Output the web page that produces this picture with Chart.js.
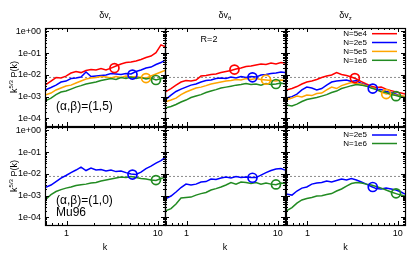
<!DOCTYPE html>
<html>
<head>
<meta charset="utf-8">
<title>k^5/3 P(k)</title>
<script src="https://cdn.jsdelivr.net/npm/chart.js@4.4.1/dist/chart.umd.min.js"></script>
<style>
  html, body { margin: 0; padding: 0; background: #fff; }
  #wrap { position: relative; width: 415px; height: 265px; overflow: hidden; }
  #wrap canvas { position: absolute; left: 0; top: 0; }
</style>
</head>
<body>
<div id="wrap"></div>
<script>
// wavenumbers, shared by every spectrum
var k = [0.58, 0.675, 0.766, 0.869, 0.985, 1.118, 1.269, 1.439, 1.633, 1.853, 2.102, 2.385, 2.706,
         3.069, 3.483, 3.952, 4.483, 5.086, 5.77, 6.546, 7.427, 8.426, 9.559, 10.84, 12.0];

var nLabels = ["N=5e4", "N=2e5", "N=5e5", "N=1e6"];
var nColors = ["#ff0000", "#0000ff", "#ffa500", "#228b22"];
var circleK = [3.35, 5.28, 7.43, 9.55];   // circle position for each N
var kolmo = 0.0076;                       // dashed reference level

// top row, (alpha,beta)=(1,5)
var vrTop5e4 = [0.00336, 0.00517, 0.00751, 0.00711, 0.00878, 0.0121, 0.0142, 0.0127, 0.0158, 0.0175, 0.0166, 0.0195, 0.0166, 0.0205, 0.0254, 0.0314, 0.0368, 0.0388, 0.0432, 0.0508, 0.0627, 0.0737, 0.105, 0.24, 0.2];
var vrTop2e5 = [0.00201, 0.0026, 0.00336, 0.00466, 0.00517, 0.00675, 0.0071, 0.0079, 0.0135, 0.0084, 0.0088, 0.0093, 0.0098, 0.0114, 0.0109, 0.0103, 0.0114, 0.0109, 0.0142, 0.0166, 0.0205, 0.0228, 0.0298, 0.0368, 0.048];
var vrTop5e5 = [0.00117, 0.00145, 0.00201, 0.00248, 0.00306, 0.00336, 0.00419, 0.00517, 0.0064, 0.0071, 0.0075, 0.0084, 0.0079, 0.0071, 0.0084, 0.0075, 0.0088, 0.0079, 0.0084, 0.0075, 0.0071, 0.0088, 0.0109, 0.0135, 0.0158];
var vrTop1e6 = [0.000626, 0.00085, 0.00123, 0.00162, 0.00179, 0.0022, 0.00272, 0.00318, 0.00378, 0.00419, 0.00466, 0.00546, 0.0061, 0.00675, 0.0061, 0.0075, 0.00675, 0.0079, 0.00675, 0.0075, 0.0064, 0.0071, 0.0058, 0.00675, 0.0071];
var vrTopCircles = [0.0205, 0.0103, 0.0071, 0.0058];

var vtTop5e4 = [0.00162, 0.00234, 0.00336, 0.00466, 0.00546, 0.00517, 0.0058, 0.0088, 0.0093, 0.0103, 0.0109, 0.0127, 0.0142, 0.0158, 0.0185, 0.0205, 0.0241, 0.0254, 0.0283, 0.0314, 0.0298, 0.035, 0.0314, 0.0368, 0.035];
var vtTop2e5 = [0.00069, 0.00117, 0.00171, 0.0022, 0.00272, 0.00336, 0.00378, 0.00466, 0.00546, 0.0058, 0.00675, 0.0071, 0.00675, 0.0079, 0.0071, 0.0084, 0.0075, 0.0084, 0.0079, 0.0098, 0.0103, 0.0114, 0.0121, 0.0135, 0.0127];
var vtTop5e5 = [0.00056, 0.00069, 0.00085, 0.00123, 0.00162, 0.00201, 0.00248, 0.00272, 0.00318, 0.00378, 0.00419, 0.00466, 0.00517, 0.00546, 0.0061, 0.0058, 0.00675, 0.0061, 0.00675, 0.0061, 0.0058, 0.00546, 0.00517, 0.0058, 0.00546];
var vtTop1e6 = [0.000294, 0.000346, 0.00043, 0.00056, 0.00069, 0.0009, 0.00105, 0.00123, 0.00153, 0.00179, 0.00209, 0.00248, 0.00272, 0.00301, 0.00336, 0.00357, 0.00398, 0.00357, 0.00378, 0.00336, 0.00398, 0.00357, 0.00378, 0.00419, 0.00378];
var vtTopCircles = [0.0175, 0.0077, 0.006, 0.00378];

var vzTop5e4 = [0.00201, 0.00234, 0.00289, 0.00378, 0.00466, 0.00517, 0.0061, 0.0075, 0.0088, 0.0098, 0.0127, 0.0103, 0.0093, 0.0079, 0.0064, 0.00491, 0.00378, 0.00301, 0.0026, 0.00272, 0.0022, 0.00188, 0.00162, 0.00145, 0.00131];
var vzTop2e5 = [0.00085, 0.00099, 0.0013, 0.00201, 0.00272, 0.00248, 0.00201, 0.00234, 0.00336, 0.00466, 0.00517, 0.00546, 0.0058, 0.00491, 0.00546, 0.00398, 0.00336, 0.0026, 0.0022, 0.00209, 0.00171, 0.00154, 0.0013, 0.00104, 0.00099];
var vzTop5e5 = [0.00069, 0.00085, 0.00105, 0.00095, 0.00117, 0.00111, 0.00138, 0.00145, 0.00201, 0.00272, 0.00234, 0.00318, 0.00378, 0.00441, 0.00398, 0.00378, 0.00318, 0.0026, 0.0022, 0.00162, 0.0013, 0.00138, 0.00117, 0.00111, 0.00099];
var vzTop1e6 = [0.000407, 0.000366, 0.00045, 0.00059, 0.00073, 0.00081, 0.0009, 0.00105, 0.00123, 0.00153, 0.00179, 0.00234, 0.00272, 0.00318, 0.00357, 0.00336, 0.00301, 0.00248, 0.00209, 0.00171, 0.00153, 0.00123, 0.00111, 0.00095, 0.0009];
var vzTopCircles = [0.0071, 0.00234, 0.0013, 0.00104];

// bottom row, (alpha,beta)=(1,0), Mu96
var vrBot2e5 = [0.00234, 0.00306, 0.00441, 0.0064, 0.0084, 0.0114, 0.015, 0.0205, 0.0142, 0.0185, 0.015, 0.0158, 0.0135, 0.015, 0.0127, 0.0135, 0.0114, 0.0098, 0.0093, 0.0121, 0.0175, 0.0228, 0.0314, 0.041, 0.0565];
var vrBot1e6 = [0.00063, 0.00111, 0.00153, 0.00188, 0.0022, 0.00248, 0.00289, 0.00318, 0.00336, 0.00378, 0.00398, 0.00466, 0.00517, 0.0058, 0.0064, 0.0071, 0.00675, 0.0075, 0.00675, 0.0061, 0.0058, 0.00517, 0.00491, 0.0061, 0.00675];
var vrBotCircles = [0.0093, 0.00517];

var vtBot2e5 = [0.00069, 0.00095, 0.00145, 0.00234, 0.00336, 0.00306, 0.00336, 0.00419, 0.00441, 0.0058, 0.00546, 0.0064, 0.0071, 0.0064, 0.0075, 0.00675, 0.0071, 0.00675, 0.00675, 0.0088, 0.0114, 0.0142, 0.0166, 0.0175, 0.015];
var vtBot1e6 = [0.000192, 0.00025, 0.000407, 0.00077, 0.00081, 0.00085, 0.00105, 0.00123, 0.00138, 0.00179, 0.00209, 0.00248, 0.00306, 0.00398, 0.00336, 0.00419, 0.00398, 0.00357, 0.00398, 0.00336, 0.00378, 0.00336, 0.00318, 0.00378, 0.00357];
var vtBotCircles = [0.0066, 0.00325];

var vzBot2e5 = [0.00117, 0.00105, 0.00162, 0.0022, 0.00248, 0.00336, 0.00378, 0.00398, 0.00466, 0.00419, 0.00491, 0.0058, 0.00517, 0.0061, 0.00517, 0.00419, 0.00336, 0.0026, 0.00209, 0.00201, 0.0022, 0.00201, 0.00179, 0.00145, 0.00117];
var vzBot1e6 = [0.000192, 0.00028, 0.00045, 0.00063, 0.00073, 0.00081, 0.00095, 0.00099, 0.00111, 0.00123, 0.00162, 0.00201, 0.00272, 0.00357, 0.00398, 0.00378, 0.00336, 0.00306, 0.0026, 0.0022, 0.00179, 0.00145, 0.00123, 0.00105, 0.00095];
var vzBotCircles = [0.00248, 0.00127];

var colSubs = ["r", "\u03b8", "z"];
var yTicks = [1, 0.1, 0.01, 0.001, 0.0001];
var yTickLabels = ["1e+00", "1e-01", "1e-02", "1e-03", "1e-04"];
var xTicks = [1, 10];
var xTickLabels = ["1", "10"];
var kMin = 0.58, kMax = 12, yMin = 4.4e-5, yMax = 1.44;

// panel boxes in page pixels
var colX = [[45, 165], [165, 285], [286, 405]];
var rowY = [[28, 126], [127, 225]];
var FONT = '"Liberation Sans", Arial, sans-serif';
var Y_AXIS_W = 40, X_AXIS_H = 16;

var panels = [
  { row: 0, col: 0, n: [0, 1, 2, 3], series: [vrTop5e4, vrTop2e5, vrTop5e5, vrTop1e6], circles: vrTopCircles },
  { row: 0, col: 1, n: [0, 1, 2, 3], series: [vtTop5e4, vtTop2e5, vtTop5e5, vtTop1e6], circles: vtTopCircles },
  { row: 0, col: 2, n: [0, 1, 2, 3], series: [vzTop5e4, vzTop2e5, vzTop5e5, vzTop1e6], circles: vzTopCircles },
  { row: 1, col: 0, n: [1, 3], series: [vrBot2e5, vrBot1e6], circles: vrBotCircles },
  { row: 1, col: 1, n: [1, 3], series: [vtBot2e5, vtBot1e6], circles: vtBotCircles },
  { row: 1, col: 2, n: [1, 3], series: [vzBot2e5, vzBot1e6], circles: vzBotCircles }
];

function labelFor(v, ticks, labels) {
  for (var i = 0; i < ticks.length; i++) {
    if (Math.abs(Math.log10(v / ticks[i])) < 1e-6) return labels[i];
  }
  return "";
}

// integer mantissa of a log tick, or null for the min/max end ticks
function mantissa(v) {
  var e = Math.floor(Math.log10(v) + 1e-9);
  var m = v / Math.pow(10, e);
  var r = Math.round(m);
  return Math.abs(m - r) < 1e-6 ? r : null;
}

function drawParts(ctx, x, y, parts, align) {
  var w = 0;
  parts.forEach(function(p) { ctx.font = p[1] + "px " + FONT; p.w = ctx.measureText(p[0]).width; w += p.w; });
  var cx = align === "center" ? x - w / 2 : x;
  ctx.textAlign = "left";
  ctx.textBaseline = "alphabetic";
  parts.forEach(function(p) {
    ctx.font = p[1] + "px " + FONT;
    ctx.fillText(p[0], cx, y + p[2]);
    cx += p.w;
  });
}

function drawPanel(chart, p) {
  var ctx = chart.ctx;
  var a = chart.chartArea;
  var xs = chart.scales.x, ys = chart.scales.y;
  ctx.save();
  ctx.strokeStyle = "#000";
  ctx.fillStyle = "#000";

  // inward ticks on all four sides
  ctx.lineWidth = 1;
  ctx.beginPath();
  xs.ticks.forEach(function(t) {
    var m = mantissa(t.value);
    if (m === null) return;
    var len = m === 1 ? 4 : 2;
    var px = Math.round(xs.getPixelForValue(t.value)) + 0.5;
    ctx.moveTo(px, a.bottom); ctx.lineTo(px, a.bottom - len);
    ctx.moveTo(px, a.top); ctx.lineTo(px, a.top + len);
  });
  ys.ticks.forEach(function(t) {
    var m = mantissa(t.value);
    if (m === null) return;
    var len = m === 1 ? 4 : 2;
    var py = Math.round(ys.getPixelForValue(t.value)) + 0.5;
    ctx.moveTo(a.left, py); ctx.lineTo(a.left + len, py);
    ctx.moveTo(a.right, py); ctx.lineTo(a.right - len, py);
  });
  ctx.stroke();

  // frame
  ctx.lineWidth = 1.2;
  ctx.strokeRect(a.left + 0.5, a.top + 0.5, a.right - a.left, a.bottom - a.top);

  var cx = (a.left + a.right) / 2;
  if (p.row === 0) {
    drawParts(ctx, cx, 18, [["\u03b4v", 9, 0], [colSubs[p.col], 6, 2]], "center");
  } else {
    ctx.font = "9px " + FONT;
    ctx.textAlign = "center";
    ctx.textBaseline = "alphabetic";
    ctx.fillText("k", cx, 250);
  }

  if (p.col === 0) {
    ctx.save();
    ctx.translate(16.5, (a.top + a.bottom) / 2);
    ctx.rotate(-Math.PI / 2);
    drawParts(ctx, 0, 0, [["k", 9, 0], ["5/3", 6, -3.5], [" P(k)", 9, 0]], "center");
    ctx.restore();
    ctx.font = "12px " + FONT;
    ctx.textAlign = "left";
    ctx.textBaseline = "middle";
    if (p.row === 0) {
      ctx.fillText("(\u03b1,\u03b2)=(1,5)", a.left + 11, 106.5);
    } else {
      ctx.fillText("(\u03b1,\u03b2)=(1,0)", a.left + 11, 201);
      ctx.fillText("Mu96", a.left + 11, 212.5);
    }
  }

  if (p.row === 0 && p.col === 1) {
    ctx.font = "9px " + FONT;
    ctx.textAlign = "center";
    ctx.textBaseline = "middle";
    ctx.fillText("R=2", a.left + 44, 40);
  }

  if (p.col === 2) {
    var ly = p.row === 0 ? [33.7, 42.5, 51.4, 60.3] : [135, 143.5];
    ctx.font = "8px " + FONT;
    ctx.textAlign = "right";
    ctx.textBaseline = "middle";
    ctx.lineWidth = 1.5;
    p.n.forEach(function(n, i) {
      ctx.fillStyle = "#000";
      ctx.fillText(nLabels[n], a.left + 81, ly[i]);
      ctx.strokeStyle = nColors[n];
      ctx.beginPath();
      ctx.moveTo(a.left + 86, ly[i]);
      ctx.lineTo(a.left + 111, ly[i]);
      ctx.stroke();
    });
  }
  ctx.restore();
}

var wrap = document.getElementById("wrap");

panels.forEach(function(p) {
  var canvas = document.createElement("canvas");
  canvas.width = 415;
  canvas.height = 265;
  wrap.appendChild(canvas);

  var datasets = [];
  datasets.push({
    data: [{ x: kMin, y: kolmo }, { x: kMax, y: kolmo }],
    borderColor: "#8c8c8c", borderWidth: 1, borderDash: [2, 2],
    pointRadius: 0, order: 10
  });
  p.series.forEach(function(s, i) {
    var n = p.n[i];
    datasets.push({
      label: nLabels[n],
      data: k.map(function(kv, j) { return { x: kv, y: s[j] }; }),
      borderColor: nColors[n], borderWidth: 1.5,
      pointRadius: 0, order: 6 - i
    });
  });
  datasets.push({
    data: p.circles.map(function(v, i) { return { x: circleK[p.n[i]], y: v }; }),
    showLine: false, pointRadius: 4.5, pointBorderWidth: 1.7,
    pointBorderColor: p.n.map(function(n) { return nColors[n]; }),
    pointBackgroundColor: "rgba(0,0,0,0)", order: 0
  });

  var x0 = colX[p.col][0], x1 = colX[p.col][1];
  var y0 = rowY[p.row][0], y1 = rowY[p.row][1];

  new Chart(canvas, {
    type: "line",
    data: { datasets: datasets },
    options: {
      responsive: false,
      animation: false,
      events: [],
      layout: { padding: { left: x0 - Y_AXIS_W, right: 415 - x1, top: y0, bottom: 265 - y1 - X_AXIS_H } },
      plugins: { legend: { display: false }, tooltip: { enabled: false } },
      scales: {
        x: {
          type: "logarithmic", min: kMin, max: kMax,
          grid: { display: false, drawTicks: false }, border: { display: false },
          ticks: {
            display: p.row === 1, autoSkip: false, maxRotation: 0, minRotation: 0,
            padding: 3, color: "#000", font: { family: FONT, size: 9 },
            callback: function(v) { return labelFor(v, xTicks, xTickLabels); }
          },
          afterFit: function(s) { s.height = X_AXIS_H; }
        },
        y: {
          type: "logarithmic", min: yMin, max: yMax,
          grid: { display: false, drawTicks: false }, border: { display: false },
          ticks: {
            display: p.col === 0, autoSkip: false,
            padding: 4, color: "#000", font: { family: FONT, size: 9 },
            callback: function(v) { return labelFor(v, yTicks, yTickLabels); }
          },
          afterFit: function(s) { s.width = Y_AXIS_W; }
        }
      }
    },
    plugins: [{ id: "deco", afterDraw: function(chart) { drawPanel(chart, p); } }]
  });
});
</script>
</body>
</html>
